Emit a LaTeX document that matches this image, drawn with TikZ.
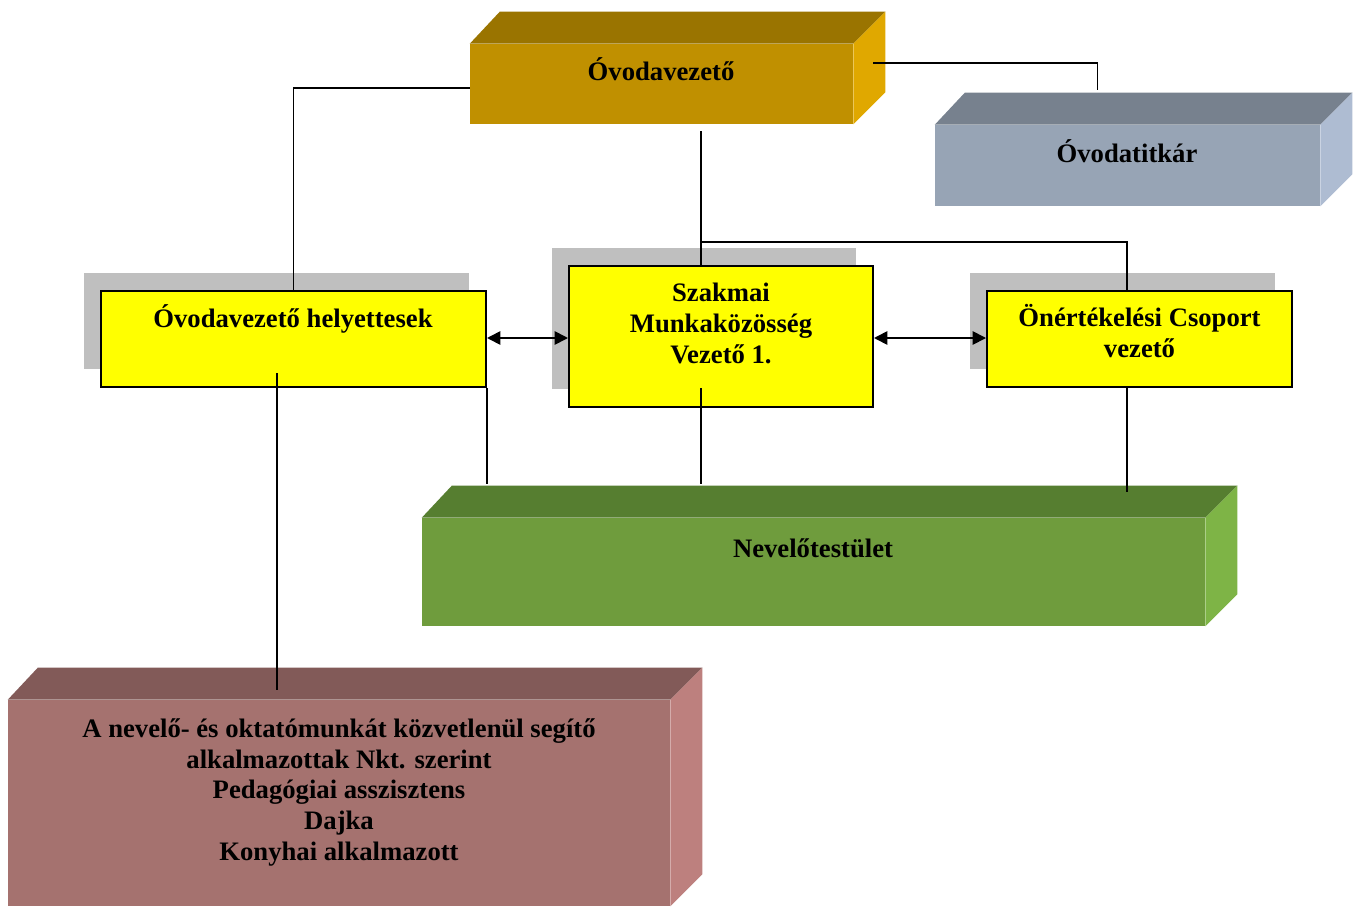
\documentclass[tikz,border=0pt]{standalone}
\usepackage{fontspec}
\setmainfont{Liberation Serif}
\usetikzlibrary{arrows.meta,shadows}

\definecolor{vezF}{RGB}{192,144,0}
\definecolor{vezT}{RGB}{154,116,0}
\definecolor{vezS}{RGB}{224,168,0}
\definecolor{titF}{RGB}{151,164,181}
\definecolor{titT}{RGB}{119,129,142}
\definecolor{titS}{RGB}{174,188,210}
\definecolor{nevF}{RGB}{111,156,61}
\definecolor{nevT}{RGB}{86,126,48}
\definecolor{nevS}{RGB}{126,180,70}
\definecolor{segF}{RGB}{165,114,111}
\definecolor{segT}{RGB}{130,90,88}
\definecolor{segS}{RGB}{189,128,126}
\definecolor{arnyek}{RGB}{191,191,191}
\definecolor{sargaF}{RGB}{255,255,0}

\tikzset{
  doboz/.style={rectangle,inner sep=0pt},
  sarga/.style={rectangle,draw=black,line width=1.5pt,fill=sargaF,inner sep=0pt,
    drop shadow={shadow xshift=-12.75pt,shadow yshift=13.5pt,fill=arnyek,opacity=1}},
  felirat/.style={font=\fontsize{20}{23}\selectfont\bfseries,align=center,inner sep=0pt,anchor=base},
  vonal/.style={line width=1.3pt},
  nyil/.style={vonal,{Triangle[length=10pt,width=10pt]}-{Triangle[length=10pt,width=10pt]}},
}

% teteje es oldala a 3D dobozoknak
\newcommand{\teteje}[3]{%
  \fill[#2] (#1.north west) -- ++(30,-32) -- ([shift={(32,-32)}]#1.north east) -- (#1.north east) -- cycle;
  \fill[#3] (#1.north east) -- ([shift={(32,-32)}]#1.north east) -- ([shift={(32,-32)}]#1.south east) -- (#1.south east) -- cycle;}

\begin{document}
\begin{tikzpicture}[x=0.75pt,y=-0.75pt]
		\useasboundingbox (0,0) rectangle (1358,906);
		%
		\node[doboz,fill=vezF,minimum width=287.25pt,minimum height=60pt] (vez) at (661.5,84) {};
		\node[doboz,fill=titF,minimum width=288.75pt,minimum height=60.75pt] (tit) at (1127.5,165.5) {};
		\node[doboz,fill=nevF,minimum width=587.25pt,minimum height=81pt] (nev) at (813.5,572) {};
		\node[doboz,fill=segF,minimum width=496.5pt,minimum height=154.5pt] (seg) at (339,803) {};
		\teteje{vez}{vezT}{vezS}
		\teteje{tit}{titT}{titS}
		\teteje{nev}{nevT}{nevS}
		\teteje{seg}{segT}{segS}
		%
		\node[sarga,minimum width=288.75pt,minimum height=72pt] (hely) at (293.5,339) {};
		\node[sarga,minimum width=228pt,minimum height=105.75pt] (szak) at (721,336.5) {};
		\node[sarga,minimum width=228.75pt,minimum height=72pt] (onert) at (1139.5,339) {};
		%
		% base = utolso sor alapvonala
		\node[felirat] (vezL) at (661,80) {Óvodavezető};
		\node[felirat] (titL) at (1127,162) {Óvodatitkár};
		\node[felirat] (helyL) at (293,327) {Óvodavezető helyettesek};
		\node[felirat] (szakL) at (721,363) {Szakmai\\Munkaközösség\\Vezető 1.};
		\node[felirat] (onertL) at (1139.5,357) {Önértékelési Csoport\\vezető};
		\node[felirat] (nevL) at (813,557) {Nevelőtestület};
		\node[felirat] (segL) at (339,860) {A nevelő- és oktatómunkát közvetlenül segítő\\alkalmazottak Nkt. szerint\\Pedagógiai asszisztens\\Dajka\\Konyhai alkalmazott};
		%
		\coordinate (nevtop) at ([shift={(0,-34)}]nev.north);
		\coordinate (segtop) at ([shift={(0,-10)}]seg.north);
		\coordinate (elag) at ([shift={(-20,-23)}]szak.north);
		%
		\draw[vonal] ([shift={(0,4)}]vez.west) -| (hely.north);
		\draw[vonal] ([shift={(20,-21)}]vez.east) -| ([shift={(-30,-35)}]tit.north);
		\draw[vonal] ([shift={(39.5,7)}]vez.south) -- ([shift={(-20,0)}]szak.north);
		\draw[vonal] (elag) -| ([shift={(-12.5,0)}]onert.north);
		\draw[nyil] ([shift={(0,-1)}]hely.east) -- ([shift={(0,-1)}]hely.east -| szak.west);
		\draw[nyil] ([shift={(0,1.5)}]szak.east) -- ([shift={(0,1.5)}]szak.east -| onert.west);
		\draw[vonal] (hely.south east) -- (hely.south east |- nevtop);
		\draw[vonal] ([shift={(-20,-20)}]szak.south) -- ([shift={(-20,0)}]szak.south |- nevtop);
		\draw[vonal] ([shift={(-12.5,0)}]onert.south) -- ([shift={(-12.5,-26)}]onert.south |- nev.north);
		\draw[vonal] ([shift={(-16.5,-15)}]hely.south) -- ([shift={(-16.5,0)}]hely.south |- segtop);
\end{tikzpicture}
\end{document}
